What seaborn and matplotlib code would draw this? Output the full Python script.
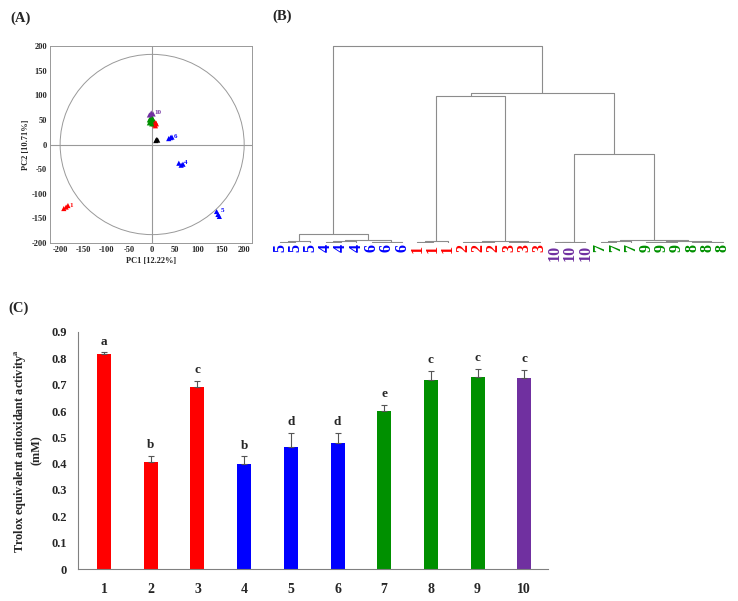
import numpy as np
import pandas as pd
import matplotlib
matplotlib.use("Agg")
import matplotlib.pyplot as plt
from matplotlib.patches import Ellipse
from matplotlib.ticker import MultipleLocator
import seaborn as sns

# ---- data ----
group_colors = {"1": "#FF0000", "2": "#FF0000", "3": "#FF0000",
                "4": "#0000FF", "5": "#0000FF", "6": "#0000FF",
                "7": "#009000", "8": "#009000", "9": "#009000",
                "10": "#7030A0", "QC": "#000000"}

# (A) PCA scores
pca_group = ["1"] * 3 + ["2"] * 3 + ["3"] * 3 + ["7"] * 3 + ["8"] * 3 + ["9"] * 3 + \
            ["10"] * 3 + ["QC"] * 3 + ["6"] * 3 + ["4"] * 3 + ["5"] * 3
pca_pc1 = [-192, -187, -183, 3, 6, 8, 5, 9, 7, -6, -3, -1, -4, -1, 0, -6, -2, 1,
           -6, -2, 2, 8, 10, 12, 36, 40, 43, 58, 63, 67, 140, 143, 146]
pca_pc2 = [-130, -127, -124, 42, 40, 44, 46, 42, 38, 44, 48, 42, 52, 55, 50, 50, 46, 53,
           60, 64, 62, 8, 10, 9, 12, 14, 15, -38, -42, -40, -136, -142, -146]
pca_labels = ["1", "10", "4", "6", "5"]

# (B) dendrogram: leaf order and merges (child a, child b, height)
leaf_labels = ["5", "5", "5", "4", "4", "4", "6", "6", "6",
               "1", "1", "1", "2", "2", "2", "3", "3", "3",
               "10", "10", "10", "7", "7", "7", "9", "9", "9", "8", "8", "8"]
merges = [(0, 1, 0.4), (30, 2, 0.8), (3, 4, 0.4), (32, 5, 0.9), (6, 7, 0.3), (34, 8, 0.6),
          (33, 35, 1.5), (31, 36, 4.6),
          (9, 10, 0.4), (38, 11, 0.8), (12, 13, 0.3), (40, 14, 0.7), (15, 16, 0.3), (42, 17, 0.6),
          (41, 43, 1.2), (39, 44, 74.6),
          (18, 19, 0.3), (46, 20, 0.7), (21, 22, 0.3), (48, 23, 0.8), (24, 25, 0.3), (50, 26, 0.6),
          (27, 28, 0.3), (52, 29, 0.5), (51, 53, 1.0), (49, 54, 1.4), (47, 55, 45.0),
          (45, 56, 76.0), (37, 57, 100.0)]

# (C) Trolox equivalent antioxidant activity
samples = ["1", "2", "3", "4", "5", "6", "7", "8", "9", "10"]
teac = [0.817, 0.407, 0.691, 0.399, 0.463, 0.477, 0.601, 0.719, 0.729, 0.724]
teac_sd = [0.006, 0.024, 0.024, 0.029, 0.054, 0.039, 0.021, 0.033, 0.031, 0.031]
letters = ["a", "b", "c", "b", "d", "d", "e", "c", "c", "c"]

# ---- style ----
sns.set_style("white")
plt.rcParams["font.family"] = ["Liberation Serif", "DejaVu Serif"]
plt.rcParams["font.weight"] = "bold"
plt.rcParams["axes.labelweight"] = "bold"
plt.rcParams["axes.unicode_minus"] = False
plt.rcParams["mathtext.fontset"] = "stix"

W, H = 738, 601
fig = plt.figure(figsize=(W / 100, H / 100), dpi=100)


def px_axes(left, top, right, bottom):
    return fig.add_axes([left / W, 1 - bottom / H, (right - left) / W, (bottom - top) / H])


# ---- (A) PCA ----
axA = px_axes(50, 46, 252, 243)
df_pca = pd.DataFrame({"PC1": pca_pc1, "PC2": pca_pc2, "group": pca_group})
sns.scatterplot(data=df_pca, x="PC1", y="PC2", hue="group", palette=group_colors,
                marker="^", s=14, edgecolor="none", legend=False, ax=axA)
axA.axhline(0, color="#999999", lw=0.8, zorder=0)
axA.axvline(0, color="#999999", lw=0.8, zorder=0)
axA.add_patch(Ellipse((0, 0), 400, 366, fill=False, ec="#999999", lw=0.7))
for g in pca_labels:
    sub = df_pca[df_pca.group == g]
    axA.text(sub.PC1.max() + 3, sub.PC2.max() - 2, g, color=group_colors[g], fontsize=5)
axA.set_xlim(-222, 217)
axA.set_ylim(-200, 200)
axA.xaxis.set_major_locator(MultipleLocator(50))
axA.yaxis.set_major_locator(MultipleLocator(50))
axA.xaxis.set_minor_locator(MultipleLocator(10))
axA.yaxis.set_minor_locator(MultipleLocator(10))
axA.tick_params(which="both", direction="in", labelsize=6, pad=2, color="#999999")
axA.tick_params(which="major", length=2)
axA.tick_params(which="minor", length=1)
axA.set_xlabel("PC1 [12.22%]", fontsize=6, labelpad=2)
axA.set_ylabel("PC2 [10.71%]", fontsize=6, labelpad=1)
for s in axA.spines.values():
    s.set_color("#999999")
    s.set_linewidth(0.7)

# ---- (B) dendrogram ----
axB = px_axes(270, 40, 735, 243)
n = len(leaf_labels)
node_x = {i: float(i) for i in range(n)}
node_h = {i: 0.0 for i in range(n)}
for k, (a, b, h) in enumerate(merges):
    xa, xb = node_x[a], node_x[b]
    axB.plot([xa, xa, xb, xb], [node_h[a], h, h, node_h[b]], color="#8c8c8c", lw=0.8)
    node_x[n + k] = (xa + xb) / 2
    node_h[n + k] = h
axB.set_xlim(-0.65, n - 1 + 0.8)
axB.set_ylim(0, 103)
axB.set_xticks(range(n))
axB.set_xticklabels(leaf_labels, rotation=90, fontsize=11.5)
for lab, t in zip(leaf_labels, axB.get_xticklabels()):
    t.set_color(group_colors[lab])
axB.tick_params(axis="x", length=0, pad=1)
axB.set_yticks([])
for s in axB.spines.values():
    s.set_visible(False)

# ---- (C) bar chart ----
axC = px_axes(78, 332, 548, 569)
df_c = pd.DataFrame({"sample": samples, "teac": teac})
sns.barplot(data=df_c, x="sample", y="teac", hue="sample", palette=group_colors,
            order=samples, width=0.3, legend=False, ax=axC, edgecolor="none",
            saturation=1)
for i, (v, e) in enumerate(zip(teac, teac_sd)):
    axC.errorbar(i, v, yerr=[[0], [e]], fmt="none", ecolor="#555555",
                 elinewidth=0.8, capsize=2.5, capthick=0.8)
    axC.text(i, v + e + 0.018, letters[i], ha="center", va="bottom", fontsize=9.5,
             fontweight="bold")
axC.set_xlim(-0.56, 9.51)
axC.set_ylim(0, 0.9)
axC.set_yticks(np.arange(0, 0.91, 0.1))
axC.set_yticklabels(["0"] + [f"{v:.1f}" for v in np.arange(0.1, 0.91, 0.1)])
axC.tick_params(axis="y", length=0, labelsize=9, pad=8)
axC.tick_params(axis="x", length=0, labelsize=10, pad=10)
axC.set_xlabel("")
axC.set_ylabel("Trolox equivalent antioxidant activity$^{\\mathrm{a}}$\n(mM)",
               fontsize=8.8, labelpad=6, linespacing=1.3)
sns.despine(ax=axC)
for s in ["left", "bottom"]:
    axC.spines[s].set_color("#808080")
    axC.spines[s].set_linewidth(0.8)

# ---- panel labels ----
fig.text(10 / W, 1 - 18 / H, "(A)", fontsize=10.5, fontweight="bold", va="center")
fig.text(272 / W, 1 - 16 / H, "(B)", fontsize=10.5, fontweight="bold", va="center")
fig.text(8 / W, 1 - 308 / H, "(C)", fontsize=10.5, fontweight="bold", va="center")

fig.savefig("out.png", dpi=100)
